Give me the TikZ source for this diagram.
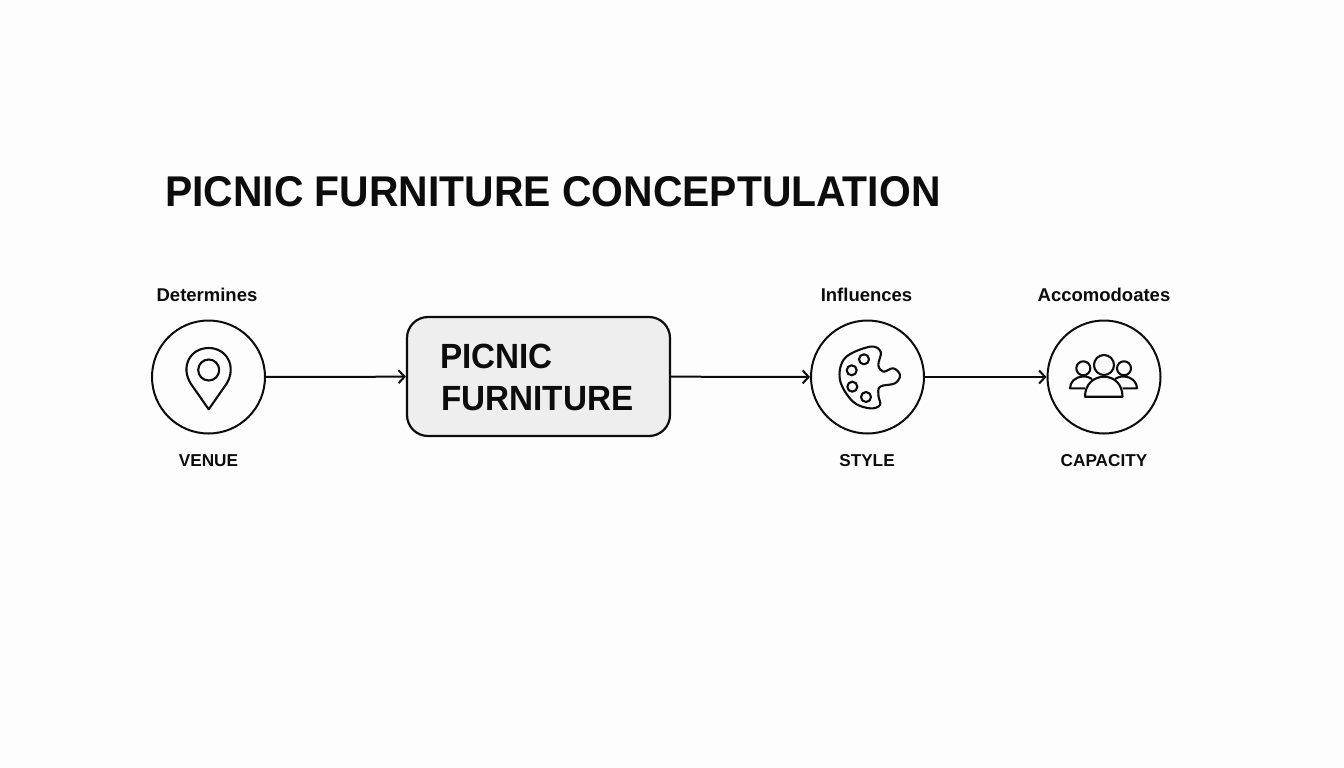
\documentclass[tikz,border=0pt]{standalone}
\usepackage{fontspec}
\setmainfont{Liberation Sans}
\newfontfamily\narrowfont[FakeStretch=0.95]{Liberation Sans}
\usetikzlibrary{arrows.meta}
\definecolor{ink}{HTML}{0C0C0C}
\definecolor{paper}{HTML}{FDFDFD}
\definecolor{boxfill}{HTML}{EEEEEE}
\tikzset{
  x=1pt,y=-1pt,
  hub/.style={circle,draw=ink,line width=2pt,minimum size=113pt,inner sep=0pt},
  mainbox/.style={rectangle,rounded corners=21pt,draw=ink,fill=boxfill,line width=2.2pt,minimum width=263pt,minimum height=119pt,inner sep=0pt},
  conn/.style={draw=ink,line width=2pt,-{Straight Barb[length=6pt,width=13pt,line width=2pt]}},
  icon/.style={draw=ink,line width=2.1pt,line join=round},
  toplabel/.style={text=ink,font=\fontsize{18.5}{20}\selectfont\bfseries,inner sep=0pt,anchor=center},
  botlabel/.style={text=ink,font=\fontsize{17.2}{20}\selectfont\bfseries,inner sep=0pt,anchor=center},
  boxtext/.style={text=ink,font=\narrowfont\fontsize{35}{40}\selectfont\bfseries,inner sep=0pt,anchor=base west},
  titletext/.style={text=ink,font=\narrowfont\fontsize{43}{48}\selectfont\bfseries,inner sep=0pt,anchor=base west}
}
\begin{document}
\begin{tikzpicture}
\path[use as bounding box,fill=paper] (0,0) rectangle (1344,768);
\node[titletext] (title) at (165,206) {PICNIC FURNITURE CONCEPTULATION};
\node[hub] (venue) at (208.5,377) {};
\node[mainbox] (furn) at (538.5,376.5) {};
\node[hub] (style) at (867.5,377) {};
\node[hub] (cap) at (1104,377) {};
\node[boxtext] (t1) at (440,368) {PICNIC};
\node[boxtext] (t2) at (441,410) {FURNITURE};
\node[toplabel] (l1) at (207,295) {Determines};
\node[toplabel] (l2) at (866.5,295) {Influences};
\node[toplabel] (l3) at (1104,295) {Accomodoates};
\node[botlabel] (b1) at (208.5,461) {VENUE};
\node[botlabel] (b2) at (867,461) {STYLE};
\node[botlabel] (b3) at (1104,461) {CAPACITY};
\draw[conn] (venue) -- (furn);
\draw[conn] (furn) -- (style);
\draw[conn] (style) -- (cap);
% pin
\draw[icon] (208.7,409.3) -- (191,384) .. controls (180,367) and (190,348) .. (208.7,348) .. controls (227,348) and (237,367) .. (226.4,384) -- cycle;
\draw[icon] (208.7,370) circle (10.5);
% palette
\draw[icon] plot[smooth cycle,tension=0.6] coordinates {(870,346.7) (880.7,351.7) (878.3,365) (883.3,371.7) (893.3,368.3) (900,375) (895,383.3) (880,386.7) (878.5,396) (880,405) (870,408.3) (853,401.7) (840,380) (845,358)};
\draw[icon] (864,359.3) circle (5);
\draw[icon] (851.7,370.3) circle (5);
\draw[icon] (852.3,386.7) circle (5);
\draw[icon] (866,397) circle (5);
% people
\draw[icon] (1104,365) circle (10);
\draw[icon] (1083.3,368.3) circle (7);
\draw[icon] (1124,368.3) circle (7);
\draw[icon] (1085,396.7) .. controls (1085,384) and (1094,376.7) .. (1104,376.7) .. controls (1114,376.7) and (1122.5,384) .. (1122.5,396.7) -- cycle;
\draw[icon] (1085,388.3) -- (1070,388.3) .. controls (1070,382) and (1075,377) .. (1083,376.5) .. controls (1087,376.5) and (1089,377) .. (1092,379);
\draw[icon] (1122.5,388.3) -- (1137,388.3) .. controls (1137,382) and (1132,377) .. (1124,376.5) .. controls (1120,376.5) and (1118,377) .. (1115,379);
\end{tikzpicture}
\end{document}
